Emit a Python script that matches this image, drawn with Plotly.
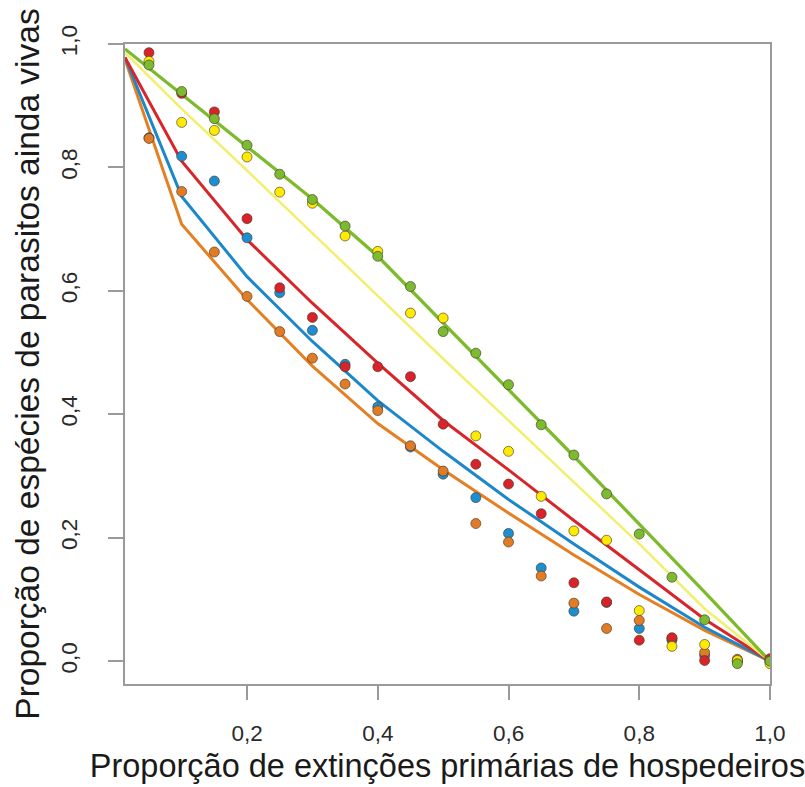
import plotly.graph_objects as go

# Proportion of host species removed (x) and surviving parasite species (y)
x_points = [0.05, 0.10, 0.15, 0.20, 0.25, 0.30, 0.35, 0.40, 0.45, 0.50,
            0.55, 0.60, 0.65, 0.70, 0.75, 0.80, 0.85, 0.90, 0.95, 1.00]

red_pts = [0.986, 0.920, 0.890, 0.717, 0.605, 0.557, 0.477, 0.477, 0.461, 0.384,
           0.319, 0.287, 0.239, 0.127, 0.096, 0.034, 0.038, 0.001, 0.000, 0.004]
yellow_pts = [0.972, 0.873, 0.860, 0.817, 0.760, 0.742, 0.689, 0.664, 0.564, 0.556,
              0.365, 0.340, 0.267, 0.211, 0.196, 0.082, 0.024, 0.027, 0.001, -0.004]
green_pts = [0.966, 0.923, 0.879, 0.836, 0.789, 0.748, 0.705, 0.656, 0.607, 0.534,
             0.499, 0.448, 0.383, 0.334, 0.271, 0.206, 0.136, 0.067, -0.004, 0.000]
blue_pts = [0.848, 0.818, 0.778, 0.686, 0.597, 0.536, 0.481, 0.412, 0.347, 0.303,
            0.265, 0.207, 0.151, 0.081, 0.095, 0.053, 0.034, 0.009, 0.000, 0.000]
orange_pts = [0.847, 0.761, 0.663, 0.591, 0.534, 0.491, 0.449, 0.406, 0.349, 0.308,
              0.223, 0.193, 0.138, 0.094, 0.053, 0.066, 0.037, 0.014, 0.003, 0.000]

# Fitted curves
x_curve = [0.0133, 0.1, 0.2, 0.3, 0.4, 0.5, 0.6, 0.7, 0.8, 0.9, 1.0]
green_curve = [0.992, 0.918, 0.833, 0.749, 0.656, 0.548, 0.440, 0.332, 0.222, 0.112, 0.0]
yellow_curve = [0.986, 0.895, 0.795, 0.694, 0.592, 0.490, 0.390, 0.290, 0.190, 0.085, 0.0]
red_curve = [0.978, 0.810, 0.683, 0.580, 0.483, 0.390, 0.310, 0.228, 0.148, 0.068, 0.0]
blue_curve = [0.978, 0.753, 0.623, 0.518, 0.422, 0.340, 0.262, 0.190, 0.120, 0.055, 0.0]
orange_curve = [0.975, 0.708, 0.586, 0.478, 0.385, 0.310, 0.240, 0.172, 0.108, 0.050, 0.0]

x_ticks = [0.2, 0.4, 0.6, 0.8, 1.0]
y_ticks = [0.0, 0.2, 0.4, 0.6, 0.8, 1.0]

line_colors = {
    "green": "#7dbb2c",
    "yellow": "#f3ef6e",
    "red": "#d8252a",
    "blue": "#1c87c9",
    "orange": "#e57f24",
}
dot_colors = {
    "green": "#7cbb30",
    "yellow": "#ffeb00",
    "red": "#d9222a",
    "blue": "#1b8fd2",
    "orange": "#e27b25",
}

fig = go.Figure()

curves = [
    ("orange", orange_curve, 3),
    ("blue", blue_curve, 3),
    ("red", red_curve, 3),
    ("yellow", yellow_curve, 2.5),
    ("green", green_curve, 3.3),
]
for name, ys, w in curves:
    fig.add_trace(go.Scatter(
        x=x_curve, y=ys, mode="lines",
        line=dict(color=line_colors[name], width=w),
        showlegend=False, hoverinfo="skip",
    ))

points = [
    ("blue", blue_pts),
    ("orange", orange_pts),
    ("red", red_pts),
    ("yellow", yellow_pts),
    ("green", green_pts),
]
for name, ys in points:
    fig.add_trace(go.Scatter(
        x=x_points, y=ys, mode="markers",
        marker=dict(size=10, color=dot_colors[name],
                    line=dict(color="rgba(70,60,40,0.65)", width=1)),
        showlegend=False,
    ))

axis_grey = "#9a9a9a"
font_family = "Liberation Sans, Arial, sans-serif"
fig.update_xaxes(
    range=[0.0133, 1.0], tickvals=x_ticks, tickformat=".1f",
    showline=True, linecolor=axis_grey, linewidth=1.5, mirror=True,
    ticks="outside", ticklen=14, tickwidth=1.5, tickcolor=axis_grey,
    ticklabelstandoff=14,
    showgrid=False, zeroline=False,
    tickfont=dict(family=font_family, size=22.5, color="#2a2a2a"),
    title=dict(text="Proporção de extinções primárias de hospedeiros",
               font=dict(family=font_family, size=32.5, color="#1a1a1a"),
               standoff=9),
)
fig.update_yaxes(
    range=[-0.037, 1.0], tickvals=y_ticks, tickformat=".1f", tickangle=-90,
    showline=True, linecolor=axis_grey, linewidth=1.5, mirror=True,
    ticks="outside", ticklen=15, tickwidth=1.5, tickcolor=axis_grey,
    ticklabelstandoff=22,
    showgrid=False, zeroline=False,
    tickfont=dict(family=font_family, size=22.5, color="#2a2a2a"),
    title=dict(text="Proporção de espécies de parasitos ainda vivas",
               font=dict(family=font_family, size=33.5, color="#1a1a1a"),
               standoff=8),
)
fig.update_layout(
    width=805, height=787,
    margin=dict(l=125, r=35, t=44, b=103, autoexpand=False),
    paper_bgcolor="white", plot_bgcolor="white",
    separators=",.",
)

fig.write_html("out.html")
